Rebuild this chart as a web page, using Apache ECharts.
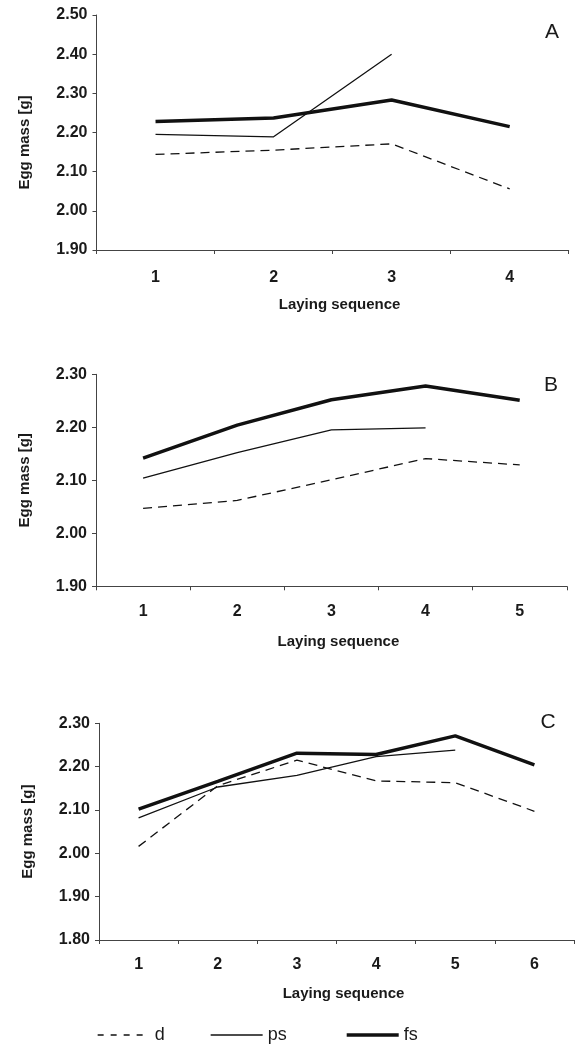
<!DOCTYPE html>
<html>
<head>
<meta charset="utf-8">
<style>
  html, body { margin: 0; padding: 0; background: #ffffff; }
  #chart { width: 576px; height: 1044px; }
</style>
<script src="https://cdn.jsdelivr.net/npm/echarts/dist/echarts.min.js"></script>
</head>
<body>
<div id="chart"></div>
<script>
// ---- Data ----
const categoriesA = ['1', '2', '3', '4'];
const dA  = [2.144, 2.155, 2.171, 2.056];
const psA = [2.195, 2.189, 2.400, null];
const fsA = [2.228, 2.237, 2.283, 2.215];

const categoriesB = ['1', '2', '3', '4', '5'];
const dB  = [2.047, 2.062, 2.101, 2.141, 2.129];
const psB = [2.104, 2.152, 2.195, 2.199, null];
const fsB = [2.142, 2.204, 2.252, 2.278, 2.251];

const categoriesC = ['1', '2', '3', '4', '5', '6'];
const dC  = [2.016, 2.156, 2.215, 2.167, 2.163, 2.097];
const psC = [2.082, 2.153, 2.180, 2.223, 2.238, null];
const fsC = [2.102, 2.166, 2.231, 2.228, 2.271, 2.204];

const seriesNames = ['d', 'ps', 'fs'];
const panelLetters = ['A', 'B', 'C'];
const yRanges = [[1.9, 2.5], [1.9, 2.3], [1.8, 2.3]];
const yTitle = 'Egg mass [g]';
const xTitle = 'Laying sequence';

// ---- Styles ----
const FONT = '"Liberation Sans", Arial, sans-serif';
const axisColor = '#444';
const textColor = '#1a1a1a';
const lineStyles = {
  d:  { color: '#111', width: 1.3, type: [9, 6] },
  ps: { color: '#111', width: 1.3, type: 'solid' },
  fs: { color: '#111', width: 3.4, type: 'solid' }
};
const legendDash = { d: [6, 7], ps: 'solid', fs: 'solid' };

const grids = [
  { left: 96.5, top: 15,    width: 472.2, height: 235 },
  { left: 96,   top: 374.3, width: 470.8, height: 212 },
  { left: 99,   top: 723.3, width: 475,   height: 216.7 }
];
const xLabelMargins = [20, 17, 17];
const xNameGaps = [47, 48, 46];
const yNamePads = [[0, 20, 0, 0], [0, 0, 0, 0], [0, 0, 0, 0]];

const panels = [
  { cats: categoriesA, d: dA, ps: psA, fs: fsA },
  { cats: categoriesB, d: dB, ps: psB, fs: fsB },
  { cats: categoriesC, d: dC, ps: psC, fs: fsC }
];

const xAxes = panels.map((p, i) => ({
  type: 'category',
  gridIndex: i,
  data: p.cats,
  boundaryGap: true,
  axisLine: { lineStyle: { color: axisColor, width: 1 } },
  axisTick: { show: true, length: 4, lineStyle: { color: axisColor } },
  axisLabel: { fontFamily: FONT, fontSize: 16, fontWeight: 'bold', color: textColor, margin: xLabelMargins[i] },
  name: xTitle,
  nameLocation: 'middle',
  nameGap: xNameGaps[i],
  nameTextStyle: { fontFamily: FONT, fontSize: 15, fontWeight: 'bold', color: textColor, padding: [0, 0, 0, 14] },
  splitLine: { show: false }
}));

const yAxes = panels.map((p, i) => ({
  type: 'value',
  gridIndex: i,
  min: yRanges[i][0],
  max: yRanges[i][1],
  interval: 0.1,
  axisLine: { show: true, lineStyle: { color: axisColor, width: 1 } },
  axisTick: { show: true, length: 4, lineStyle: { color: axisColor } },
  axisLabel: {
    fontFamily: FONT, fontSize: 16, fontWeight: 'bold', color: textColor, margin: 9,
    formatter: v => v.toFixed(2)
  },
  splitLine: { show: false },
  name: yTitle,
  nameLocation: 'middle',
  nameRotate: 90,
  nameGap: 64,
  nameTextStyle: { fontFamily: FONT, fontSize: 15, fontWeight: 'bold', color: textColor, padding: yNamePads[i] }
}));

const series = [];
panels.forEach((p, i) => {
  seriesNames.forEach(n => {
    series.push({
      name: n,
      type: 'line',
      xAxisIndex: i,
      yAxisIndex: i,
      data: p[n],
      symbol: 'none',
      connectNulls: false,
      lineStyle: lineStyles[n],
      itemStyle: { color: lineStyles[n].color },
      emphasis: { disabled: true },
      animation: false
    });
  });
});

const letterPos = [[552, 32], [551, 385], [548, 722]];
const graphics = panelLetters.map((t, i) => ({
  type: 'text',
  x: letterPos[i][0],
  y: letterPos[i][1],
  style: {
    text: t, fontFamily: FONT, fontSize: 21, fill: textColor,
    textAlign: 'center', textVerticalAlign: 'middle'
  }
}));

const legendLefts = [97, 210, 345];
const legends = seriesNames.map((n, i) => ({
  data: [n],
  left: legendLefts[i],
  top: 1026,
  padding: 0,
  itemWidth: 52,
  itemHeight: 14,
  itemGap: 0,
  selectedMode: false,
  lineStyle: { width: 'inherit', type: legendDash[n] },
  itemStyle: { opacity: 0, color: 'transparent', borderWidth: 0 },
  textStyle: { fontFamily: FONT, fontSize: 18, color: textColor, padding: [0, 0, 0, 0] }
}));

const chart = echarts.init(document.getElementById('chart'), null, { renderer: 'canvas' });
chart.setOption({
  animation: false,
  backgroundColor: '#ffffff',
  grid: grids,
  xAxis: xAxes,
  yAxis: yAxes,
  series: series,
  legend: legends,
  graphic: graphics
});
</script>
</body>
</html>
